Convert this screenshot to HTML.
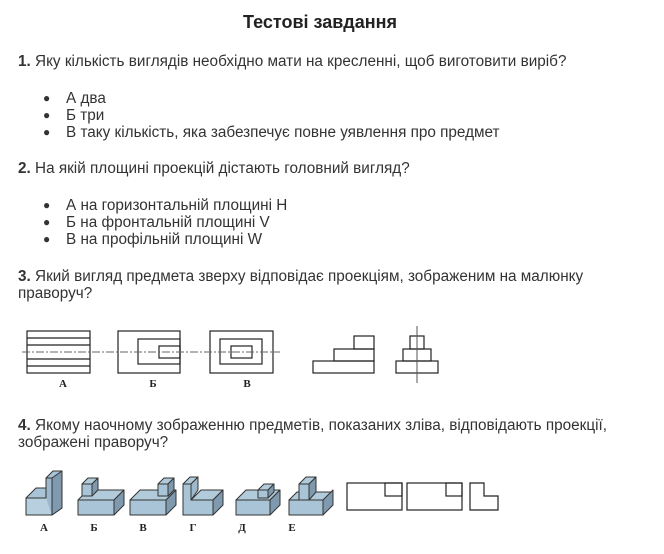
<!DOCTYPE html>
<html><head><meta charset="utf-8"><style>
body{margin:0;width:664px;height:554px;background:#fff;position:relative;font-family:"Liberation Sans",Arial,sans-serif;color:#333;overflow:hidden}
.t{position:absolute;font-size:15.3px;white-space:nowrap;line-height:17px}
.h{position:absolute;left:0;width:640px;text-align:center;top:12px;font-size:18px;font-weight:bold;color:#222}
.bl{position:absolute;left:43px;font-size:12px;line-height:17px}
svg{position:absolute;left:0;top:0}
</style></head><body>
<div class="h">Тестові завдання</div>
<div class="t" style="left:18px;top:53px"><b>1.</b> Яку кількість виглядів необхідно мати на кресленні, щоб виготовити виріб?</div>
<div class="bl" style="top:90px">●</div><div class="t" style="left:66px;top:90px">А два</div>
<div class="bl" style="top:107px">●</div><div class="t" style="left:66px;top:107px">Б три</div>
<div class="bl" style="top:124px">●</div><div class="t" style="left:66px;top:124px">В таку кількість, яка забезпечує повне уявлення про предмет</div>
<div class="t" style="left:18px;top:160px"><b>2.</b> На якій площині проекцій дістають головний вигляд?</div>
<div class="bl" style="top:197px">●</div><div class="t" style="left:66px;top:197px">А на горизонтальній площині Н</div>
<div class="bl" style="top:214px">●</div><div class="t" style="left:66px;top:214px">Б на фронтальній площині V</div>
<div class="bl" style="top:231px">●</div><div class="t" style="left:66px;top:231px">В на профільній площині W</div>
<div class="t" style="left:18px;top:268px"><b>3.</b> Який вигляд предмета зверху відповідає проекціям, зображеним на малюнку</div>
<div class="t" style="left:18px;top:285px">праворуч?</div>
<div class="t" style="left:18px;top:417px"><b>4.</b> Якому наочному зображенню предметів, показаних зліва, відповідають проекції,</div>
<div class="t" style="left:18px;top:434px">зображені праворуч?</div>
<svg width="664" height="554" viewBox="0 0 664 554">
<g fill="none" stroke="#222" stroke-width="1.2">
<rect x="27" y="331" width="63" height="42"/>
<line x1="27" y1="338" x2="90" y2="338"/><line x1="27" y1="345" x2="90" y2="345"/><line x1="27" y1="359" x2="90" y2="359"/><line x1="27" y1="366" x2="90" y2="366"/>
<rect x="118" y="331" width="62" height="42"/><rect x="138" y="339" width="42" height="25"/><rect x="159" y="346" width="21" height="12"/>
<rect x="210" y="331" width="63" height="42"/><rect x="220" y="339" width="42" height="25"/><rect x="231" y="346" width="21" height="12"/>
<line x1="22" y1="352" x2="280" y2="352" stroke="#666" stroke-dasharray="8,2,2,2" stroke-width="1"/>
<rect x="313" y="361" width="61" height="12"/><rect x="334" y="349" width="40" height="12"/><rect x="354" y="336" width="20" height="13"/>
<rect x="396" y="361" width="42" height="12"/><rect x="403" y="349" width="28" height="12"/><rect x="410" y="336" width="14" height="13"/>
<line x1="417" y1="326" x2="417" y2="383" stroke="#555" stroke-width="1"/>
<rect x="347" y="483" width="55" height="27"/><rect x="385" y="483" width="17" height="13"/>
<rect x="407" y="483" width="55" height="27"/><rect x="446" y="483" width="16" height="13"/>
<path d="M470 483H484V496H498V510H470Z"/>
</g>
<g font-family="Liberation Serif,serif" font-weight="bold" font-size="11" fill="#222" text-anchor="middle">
<text x="63" y="387">А</text><text x="153" y="387">Б</text><text x="247" y="387">В</text>
<text x="44" y="531">А</text><text x="94" y="531">Б</text><text x="143" y="531">В</text><text x="193" y="531">Г</text><text x="242" y="531">Д</text><text x="292" y="531">Е</text>
</g>
<g stroke="#333" stroke-width="1" stroke-linejoin="round">
<g transform="translate(26,478)">
<path d="M0 20L10 10H20V0L27 -7H36L36 30L26 37H0Z" fill="#a9c4d6"/>
<path d="M0 20H26V37H0Z" fill="#b7cfde"/><path d="M20 20V0H26V37" fill="#9db8cb"/>
<path d="M26 0V37L36 30V-7Z" fill="#7f9aae"/>
</g>
<g transform="translate(78,478)">
<path d="M0 22L10 12H46L36 22Z" fill="#b2cbdb"/><path d="M0 22H36V37H0Z" fill="#a9c4d6"/><path d="M36 22L46 12V27L36 37Z" fill="#7f9aae"/>
<path d="M4 6L10 0H20L14 6Z" fill="#b2cbdb"/><path d="M4 6H14V18H4Z" fill="#a9c4d6"/><path d="M14 6L20 0V12L14 18Z" fill="#7f9aae"/>
</g>
<g transform="translate(130,478)">
<path d="M0 22L10 12H46L36 22Z" fill="#b2cbdb"/><path d="M0 22H36V37H0Z" fill="#a9c4d6"/><path d="M36 22L46 12V27L36 37Z" fill="#7f9aae"/>
<path d="M28 6L34 0H44L38 6Z" fill="#b2cbdb"/><path d="M28 6H38V18H28Z" fill="#a9c4d6"/><path d="M38 6L44 0V12L38 18Z" fill="#7f9aae"/>
</g>
<g transform="translate(183,478)">
<path d="M0 6L7 -1H15L8 6Z" fill="#b2cbdb"/><path d="M8 22L18 12H40L30 22Z" fill="#b2cbdb"/>
<path d="M0 6H8V22H30V37H0Z" fill="#a9c4d6"/><path d="M8 6L15 -1V12L8 22Z" fill="#9db8cb"/>
<path d="M30 22L40 12V27L30 37Z" fill="#7f9aae"/>
</g>
<g transform="translate(236,478)">
<path d="M0 22L10 12H44L34 22Z" fill="#b2cbdb"/><path d="M0 22H34V37H0Z" fill="#a9c4d6"/><path d="M34 22L44 12V27L34 37Z" fill="#7f9aae"/>
<path d="M22 12L28 6H38L32 12Z" fill="#b2cbdb"/><path d="M22 12H32V20H22Z" fill="#a9c4d6"/><path d="M32 12L38 6V14L32 20Z" fill="#7f9aae"/>
</g>
<g transform="translate(289,478)">
<path d="M0 22L8 14H44L34 22Z" fill="#b2cbdb"/><path d="M0 22H34V37H0Z" fill="#a9c4d6"/><path d="M34 22L44 12V27L34 37Z" fill="#7f9aae"/>
<path d="M10 6L17 -1H27L20 6Z" fill="#b2cbdb"/><path d="M10 6H20V22H10Z" fill="#a9c4d6"/><path d="M20 6L27 -1V14L20 22Z" fill="#7f9aae"/>
</g>
</g>
</svg>
</body></html>
